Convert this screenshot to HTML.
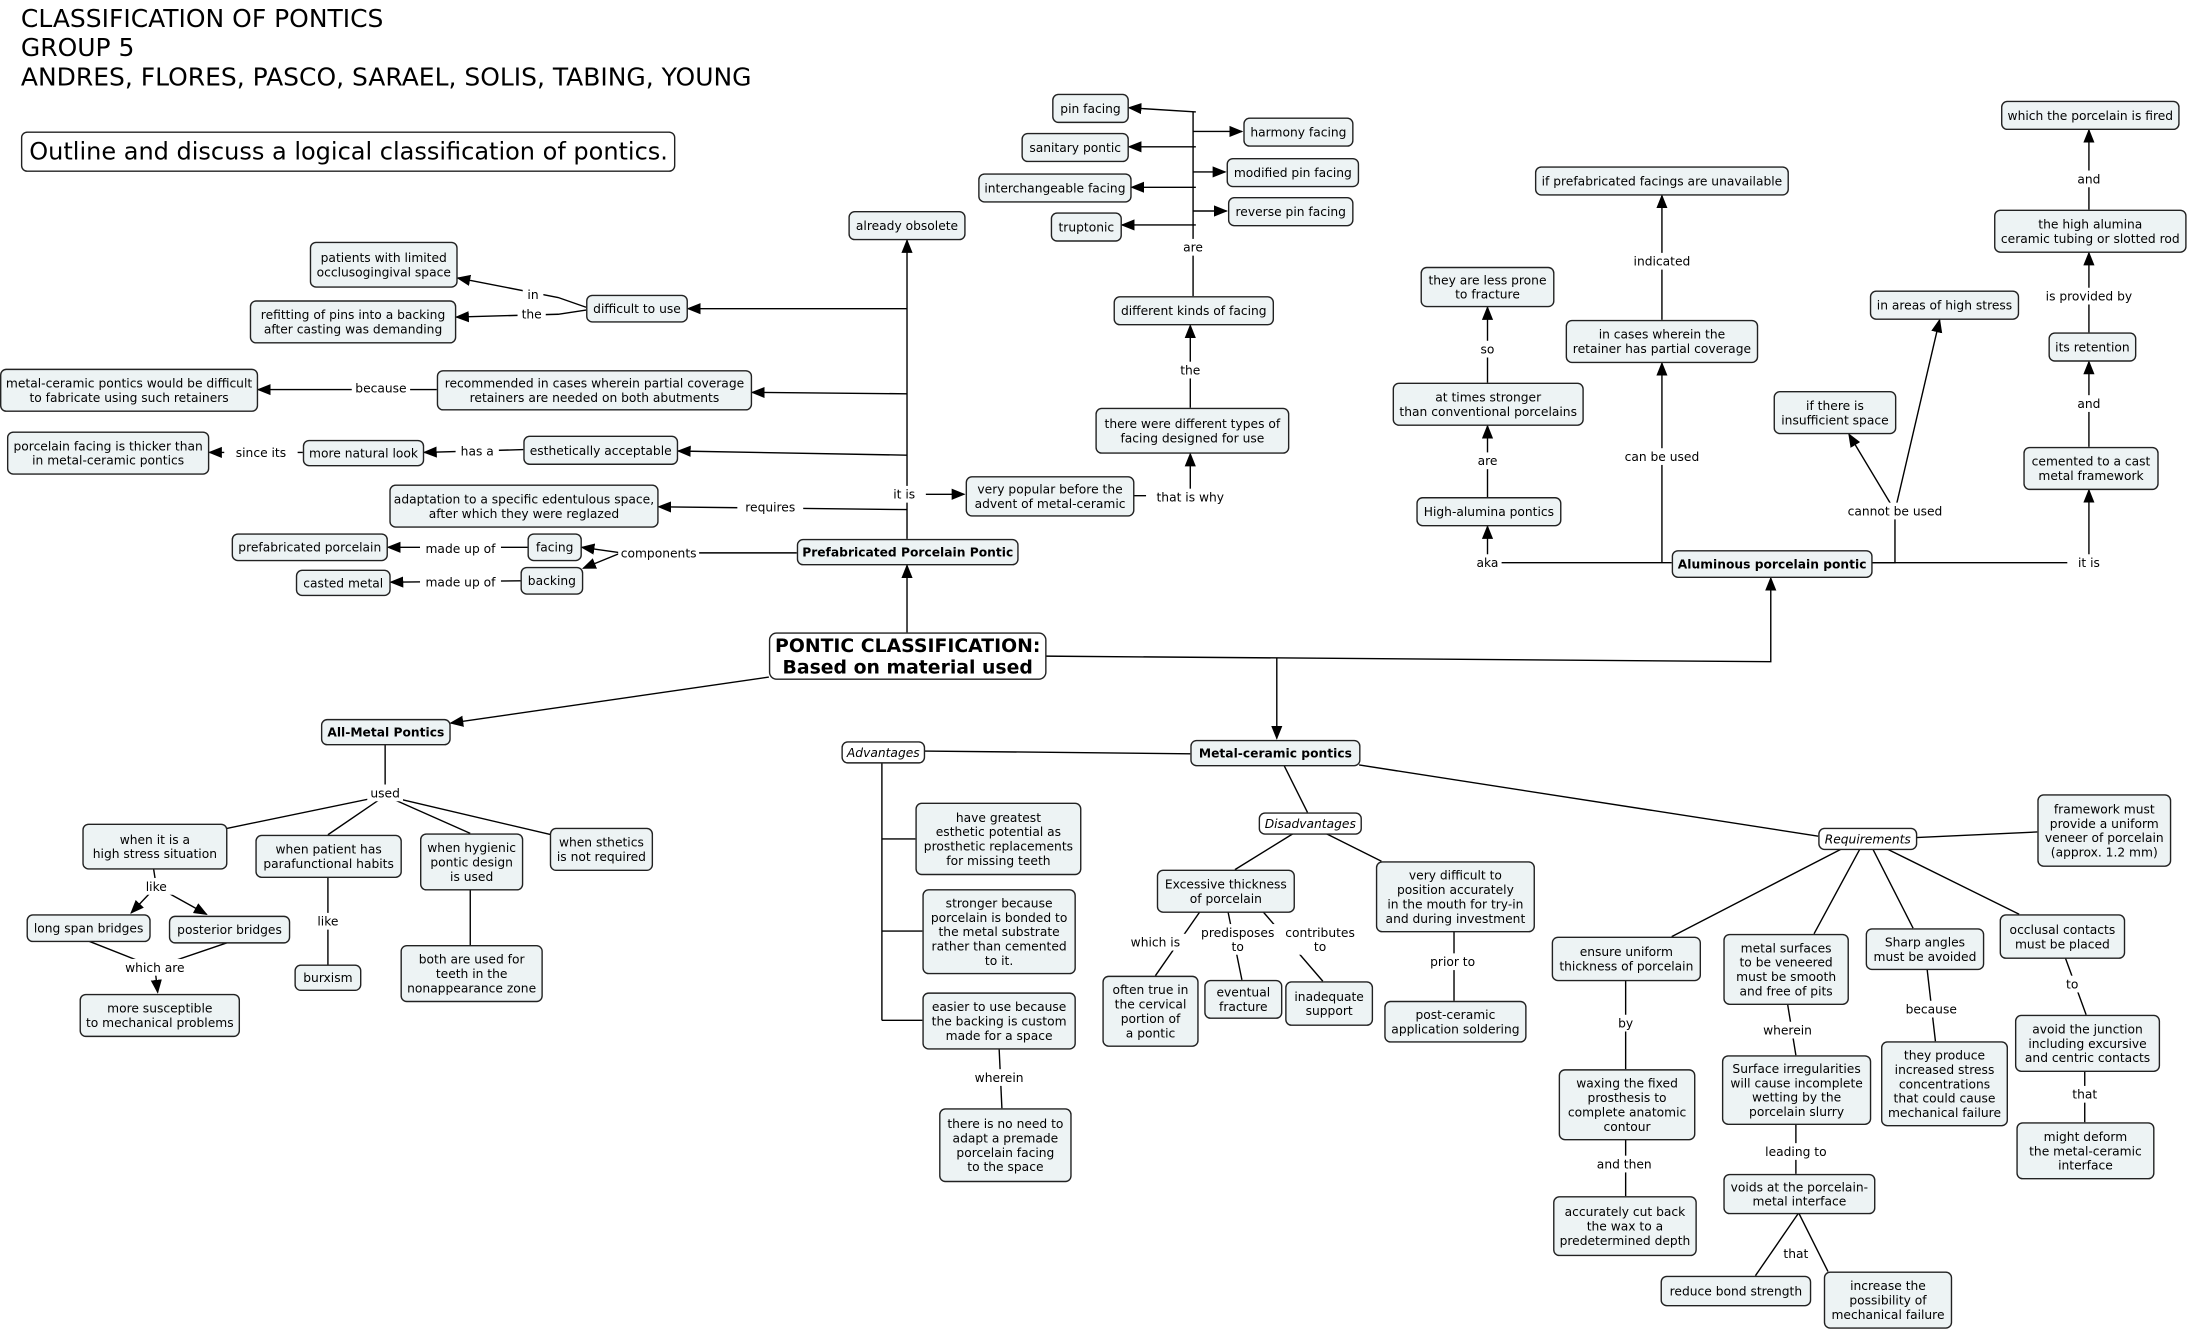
<!DOCTYPE html>
<html><head><meta charset="utf-8">
<style>
html,body{margin:0;padding:0;background:#fff;}
svg{display:block}
</style></head>
<body>
<svg id="s" xmlns="http://www.w3.org/2000/svg" width="2188" height="1329" viewBox="0 0 1568 952" font-family="'DejaVu Sans','Liberation Sans',sans-serif">
<defs><marker id="a" markerWidth="10" markerHeight="10" refX="9" refY="5" orient="auto" markerUnits="userSpaceOnUse"><path d="M0,1 L10,5 L0,9 z" fill="#000"/></marker></defs>
<rect width="1568" height="952" fill="#fff"/>
<g font-size="17.9" fill="#000">
<text x="15" y="19">CLASSIFICATION OF PONTICS</text>
<text x="15" y="40">GROUP 5</text>
<text x="15" y="61">ANDRES, FLORES, PASCO, SARAEL, SOLIS, TABING, YOUNG</text>
</g>
<rect x="15.5" y="94.5" width="468" height="28" rx="4" fill="#fff" stroke="#222"/>
<text x="21" y="114" font-size="17.2">Outline and discuss a logical classification of pontics.</text>
<g id="E" fill="none" stroke="#000" stroke-width="1"></g>
<g id="L" font-size="8.8" text-anchor="middle"></g>
<g id="N" font-size="8.8" text-anchor="middle"></g>
</svg>
<script>
var E=document.getElementById('E'),L=document.getElementById('L'),N=document.getElementById('N');
var ns='http://www.w3.org/2000/svg';
function el(p,t,at){var e=document.createElementNS(ns,t);for(var k in at)e.setAttribute(k,at[k]);p.appendChild(e);return e;}
var edges=[
["650,453 650,405",1],["551,485 323,518",1],["749,470 1269,474 1269,414",1],["915,471 915,529",1],
["650,386 650,172",1],["650,354 691,354",1],["650,221 493,221",1],["650,282 539,281",1],["650,326 486,323",1],["650,365 472,363",1],
["571,396 445,396",0],["445,396 417,392",1],["445,396 418,407",1],
["378,392 278,392",1],["373,416 280,417",1],
["420,220 400,213 328,199",1],["420,222 400,225 327,227",1],
["313,279 185,279",1],["375,322 304,324",1],["217,324 150,324",1],
["812,355 853,355 853,325",1],["853,292 853,233",1],
["855,212 855,80",0],["857,80 809,77",1],["857,105 809,105",1],["857,134 811,134",1],["857,161 804,161",1],
["855,94 890,94",1],["855,123 878,123",1],["855,151 879,151",1],
["276,533 276,568",0],["276,570 160,594",0],["276,570 235,598",0],["276,570 337,597",0],["276,570 395,598",0],
["110,622 112,635 94,654",1],["112,635 148,655",1],["63,674 111,693",0],["164,675 111,693 113,711",1],
["235,628 235,691",0],["337,637 337,677",0],
["853,540 662,538",0],["632,546 632,731",0],["632,601 656,601",0],["632,667 661,667",0],["632,731 661,731",0],
["716,751 718,794",0],
["920,548 937,582",0],["927,597 885,623",0],["950,597 990,617",0],
["860,653 828,699",0],["880,653 890,702",0],["905,653 948,703",0],["1042,667 1042,717",0],
["974,548 1303,599",0],["1373,600 1460,596",0],
["1320,608 1198,671",0],["1333,608 1300,669",0],["1342,608 1371,665",0],["1352,608 1447,655",0],
["1165,702 1165,766",0],["1165,816 1165,857",0],["1281,719 1287,756",0],["1287,805 1287,841",0],
["1289,869 1258,914",0],["1289,869 1310,911",0],["1381,694 1387,746",0],["1480,686 1495,727",0],["1494,767 1494,804",0],
["1198,403 1066,403 1066,377",1],["1066,356 1066,305",1],["1066,274 1066,220",1],
["1191,403 1191,260",1],["1191,229 1191,140",1],
["1341,403 1358,403 1358,366",0],["1358,366 1325,311",1],["1358,366 1390,229",1],
["1341,403 1497,403 1497,351",1],["1497,320 1497,259",1],["1497,238 1497,181",1],["1497,150 1497,93",1]
];
edges.forEach(function(e){var a={points:e[0]};if(e[1])a['marker-end']='url(#a)';el(E,'polyline',a);});
var labels=[["are",855,177],["the",853,265],["that is why",853,356],["it is",648,354],["in",382,211],["the",381,225],
["because",273,278],["since its",187,324],["has a",342,323],["requires",552,363],["made up of",330,393],["made up of",330,417],["components",472,396],
["used",276,568],["like",112,635],["which are",111,693],["like",235,660],["since",337,684],["wherein",716,772],
["which is",828,675],["predisposes\nto",887,673],["contributes\nto",946,673],["prior to",1041,689],
["by",1165,733],["and then",1164,834],["wherein",1281,738],["leading to",1287,825],["that",1287,898],["because",1384,723],["to",1485,705],["that",1494,784],
["aka",1066,403],["are",1066,330],["so",1066,250],["can be used",1191,327],["indicated",1191,187],["cannot be used",1358,366],
["it is",1497,403],["and",1497,289],["is provided by",1497,212],["and",1497,128]];
function txt(p,s,cx,cy,lh,extra){var ls=s.split('\n');var y0=cy-(ls.length-1)*lh/2+3.2;
 var t=el(p,'text',Object.assign({x:cx,y:y0},extra||{}));
 ls.forEach(function(l,i){var ts=el(t,'tspan',{x:cx,y:y0+i*lh});ts.textContent=l;});return t;}
labels.forEach(function(l){var ls=l[0].split('\n');var w=0;ls.forEach(function(s){w=Math.max(w,s.length*5.4);});
 var h=ls.length*10+2;el(L,'rect',{x:l[1]-w/2-2,y:l[2]-h/2,width:w+4,height:h,fill:'#fff'});txt(L,l[0],l[1],l[2],10);});
var nodes=[
[754,67,54,20,"pin facing"],[732,95,76,20,"sanitary pontic"],[701,124,109,20,"interchangeable facing"],[753,152,50,20,"truptonic"],
[891,84,78,20,"harmony facing"],[879,113,94,20,"modified pin facing"],[880,141,89,20,"reverse pin facing"],
[608,151,83,20,"already obsolete"],[798,212,114,20,"different kinds of facing"],
[785,292,138,32,"there were different types of\nfacing designed for use"],[692,341,120,28,"very popular before the\nadvent of metal-ceramic"],
[222,173,105,32,"patients with limited\nocclusogingival space"],[179,215,147,30,"refitting of pins into a backing\nafter casting was demanding"],
[420,211,72,19,"difficult to use"],[0,264,184,30,"metal-ceramic pontics would be difficult\nto fabricate using such retainers"],
[313,265,225,28,"recommended in cases wherein partial coverage\nretainers are needed on both abutments"],
[5,309,144,30,"porcelain facing is thicker than\nin metal-ceramic pontics"],[217,315,86,18,"more natural look"],[375,312,110,20,"esthetically acceptable"],
[279,347,192,30,"adaptation to a specific edentulous space,\nafter which they were reglazed"],
[571,386,158,18,"Prefabricated Porcelain Pontic","b"],[166,382,111,19,"prefabricated porcelain"],[378,382,38,19,"facing"],[373,406,44,19,"backing"],[212,408,67,18,"casted metal"],
[551,453,198,33,"PONTIC CLASSIFICATION:\nBased on material used","m"],
[230,515,92,18,"All-Metal Pontics","b"],[59,590,103,32,"when it is a\nhigh stress situation"],[183,598,104,30,"when patient has\nparafunctional habits"],
[301,597,73,40,"when hygienic\npontic design\nis used"],[394,593,73,30,"when sthetics\nis not required"],[19,655,88,19,"long span bridges"],[121,656,86,19,"posterior bridges"],
[57,712,114,30,"more susceptible\nto mechanical problems"],[211,691,47,18,"burxism"],[287,677,101,40,"both are used for\nteeth in the\nnonappearance zone"],
[603,531,59,15,"Advantages","i"],[853,530,121,18,"Metal-ceramic pontics","b"],
[656,575,118,51,"have greatest\nesthetic potential as\nprosthetic replacements\nfor missing teeth"],
[661,637,109,60,"stronger because\nporcelain is bonded to\nthe metal substrate\nrather than cemented\nto it."],
[661,711,109,40,"easier to use because\nthe backing is custom\nmade for a space"],
[673,794,94,52,"there is no need to\nadapt a premade\nporcelain facing\nto the space"],
[902,582,73,15,"Disadvantages","i"],[829,623,98,30,"Excessive thickness\nof porcelain"],
[986,617,113,50,"very difficult to\nposition accurately\nin the mouth for try-in\nand during investment"],
[790,699,68,50,"often true in\nthe cervical\nportion of\na pontic"],[863,702,55,27,"eventual\nfracture"],[921,703,62,31,"inadequate\nsupport"],
[992,717,101,29,"post-ceramic\napplication soldering"],
[1303,593,70,15,"Requirements","i"],[1460,569,95,51,"framework must\nprovide a uniform\nveneer of porcelain\n(approx. 1.2 mm)"],
[1112,671,106,31,"ensure uniform\nthickness of porcelain"],[1235,669,89,50,"metal surfaces\nto be veneered\nmust be smooth\nand free of pits"],
[1337,665,84,29,"Sharp angles\nmust be avoided"],[1433,655,89,31,"occlusal contacts\nmust be placed"],
[1117,766,97,50,"waxing the fixed\nprosthesis to\ncomplete anatomic\ncontour"],[1113,857,102,42,"accurately cut back\nthe wax to a\npredetermined depth"],
[1234,756,106,49,"Surface irregularities\nwill cause incomplete\nwetting by the\nporcelain slurry"],[1235,841,108,28,"voids at the porcelain-\nmetal interface"],
[1190,914,107,21,"reduce bond strength"],[1307,911,91,40,"increase the\npossibility of\nmechanical failure"],
[1348,746,90,60,"they produce\nincreased stress\nconcentrations\nthat could cause\nmechanical failure"],
[1444,727,103,40,"avoid the junction\nincluding excursive\nand centric contacts"],[1445,804,98,40,"might deform\nthe metal-ceramic\ninterface"],
[1198,394,143,19,"Aluminous porcelain pontic","b"],[1015,356,103,20,"High-alumina pontics"],[998,274,136,30,"at times stronger\nthan conventional porcelains"],
[1018,191,95,28,"they are less prone\nto fracture"],[1122,229,137,30,"in cases wherein the\nretainer has partial coverage"],[1100,119,181,20,"if prefabricated facings are unavailable"],
[1271,280,87,30,"if there is\ninsufficient space"],[1340,208,106,20,"in areas of high stress"],[1450,320,96,30,"cemented to a cast\nmetal framework"],
[1468,238,62,20,"its retention"],[1429,150,137,30,"the high alumina\nceramic tubing or slotted rod"],[1434,72,127,20,"which the porcelain is fired"]
];
nodes.forEach(function(n){var st=n[5]||'';var fill=(st=='i'||st=='m')?'#fff':'#edf3f4';
 el(N,'rect',{x:n[0]+0.5,y:n[1]+0.5,width:n[2],height:n[3],rx:st=='m'?5:4,fill:fill,stroke:'#222','stroke-width':1});
 var ex={};var lh=10.3;
 if(st=='b')ex['font-weight']='bold';
 if(st=='i')ex['font-style']='italic';
 if(st=='m'){ex['font-weight']='bold';ex['font-size']='13.5';lh=15.5;}
 txt(N,n[4],n[0]+n[2]/2+0.5,n[1]+n[3]/2+0.5+(st=='m'?1.5:0),lh,ex);});
</script>
</body></html>
